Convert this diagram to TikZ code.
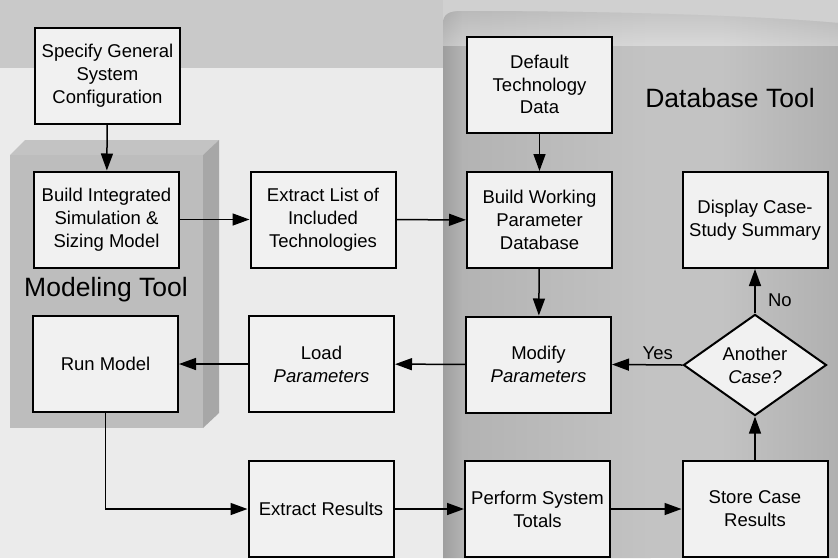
\documentclass[tikz,border=0pt]{standalone}
\usepackage{fontspec}
\setmainfont{Liberation Sans}
\usetikzlibrary{arrows.meta,shapes.geometric}

\definecolor{pagebg}{HTML}{EBEBEB}
\definecolor{bandbg}{HTML}{C9C9C9}
\definecolor{bandright}{HTML}{D0D0D0}
\definecolor{boxfill}{HTML}{F1F1F1}
\definecolor{slabfront}{HTML}{BDBDBD}
\definecolor{slabtop}{HTML}{C3C3C3}
\definecolor{slabside}{HTML}{A7A7A7}
\definecolor{panelA}{HTML}{9E9E9E}
\definecolor{panelB}{HTML}{B3B3B3}
\definecolor{panelC}{HTML}{C3C3C3}
\definecolor{panelD}{HTML}{B0B0B0}

\newcommand\bxfont{\fontsize{18.5}{22.8}\selectfont}
\newcommand\toolfont{\fontsize{26.5}{31}\selectfont}

\tikzset{
  box/.style={draw=black, line width=2pt, fill=boxfill,
    minimum width=145pt, minimum height=96pt, inner sep=0pt,
    align=center, font=\bxfont},
  decision/.style={diamond, draw=black, line width=2pt, fill=boxfill,
    minimum width=143pt, minimum height=96pt, inner sep=0pt,
    align=center, font=\bxfont},
  conn/.style={line width=1.5pt, -{Triangle[length=17pt,width=12pt]}},
  lbl/.style={font=\bxfont},
  tool/.style={font=\toolfont, inner sep=0pt},
}

\begin{document}
\begin{tikzpicture}[x=1pt, y=-1pt]
\useasboundingbox (0,0) rectangle (838,558);

% backdrop
\fill[pagebg] (0,0) rectangle (838,558);
\fill[bandbg] (0,0) rectangle (443,68);
\fill[bandright] (443,0) rectangle (838,68);

% database panel: rounded top, shaded in vertical strips
% (the y axis points down here, so a vertical shading is flipped:
%  its "bottom" colour lands at the top edge)
\begin{scope}
  \clip (443,558) -- (443,24) .. controls (443,14) and (449,11) .. (462,11)
    .. controls (620,11) and (760,16) .. (838,23) -- (838,558) -- cycle;
  \shade[left color=panelA, right color=panelB] (443,0) rectangle (462.5,558);
  \shade[left color=panelB, right color=panelC] (462,0) rectangle (650.5,558);
  \fill[panelC] (650,0) rectangle (720.5,558);
  \shade[left color=panelC, right color=panelD] (720,0) rectangle (838,558);
  \shade[bottom color=white, top color=panelC, opacity=0.35]
    (443,8) rectangle (838,45);
\end{scope}

% modeling slab
\fill[slabfront] (10,155) rectangle (203,428);
\fill[slabtop] (10,155) -- (25,140) -- (219,140) -- (203,155) -- cycle;
\fill[slabside] (203,155) -- (219,140) -- (219,413) -- (203,428) -- cycle;

% tool titles
\node[tool] (dbtitle) at (730,98) {Database Tool};
\node[tool] (mdtitle) at (106,290) {Modeling Tool};

% process boxes
\node[box] (spec)    at (107.5,75.5) {Specify General\\System\\Configuration};
\node[box] (build)   at (106.5,219.5) {Build Integrated\\Simulation \&\\Sizing Model};
\node[box] (extract) at (323,219.5) {Extract List of\\Included\\Technologies};
\node[box] (runm)    at (105.5,364) {Run Model};
\node[box] (load)    at (321.5,364) {Load\\\textit{Parameters}};
\node[box] (exres)   at (321,509) {Extract Results};
\node[box] (deftech) at (539.5,84.5) {Default\\Technology\\Data};
\node[box] (buildw)  at (539.5,220) {Build Working\\Parameter\\Database};
\node[box] (modify)  at (538.5,364.5) {Modify\\\textit{Parameters}};
\node[box] (perform) at (537.5,509) {Perform System\\Totals};
\node[box] (store)   at (755,509) {Store Case\\Results};
\node[box] (display) at (755,220) {Display Case-\\Study Summary};
\node[decision] (dia) at (755,365) {Another\\\textit{Case?}};

% connectors
\draw[conn] (spec) -- (build);
\draw[conn] (build) -- (extract);
\draw[conn] (extract) -- (buildw);
\draw[conn] (deftech) -- (buildw);
\draw[conn] (buildw) -- (modify);
\draw[conn] (modify) -- (load);
\draw[conn] (load) -- (runm);
\draw[conn] (runm.south) |- (exres.west);
\draw[conn] (exres) -- (perform);
\draw[conn] (perform) -- (store);
\draw[conn] (store) -- (dia);
\draw[conn] (dia.west) -- node[lbl, pos=0.35, above=1pt] {Yes} (modify.east);
\draw[conn] (dia.north) -- node[lbl, pos=0.3, right=9pt] {No} (display.south);
\end{tikzpicture}
\end{document}
